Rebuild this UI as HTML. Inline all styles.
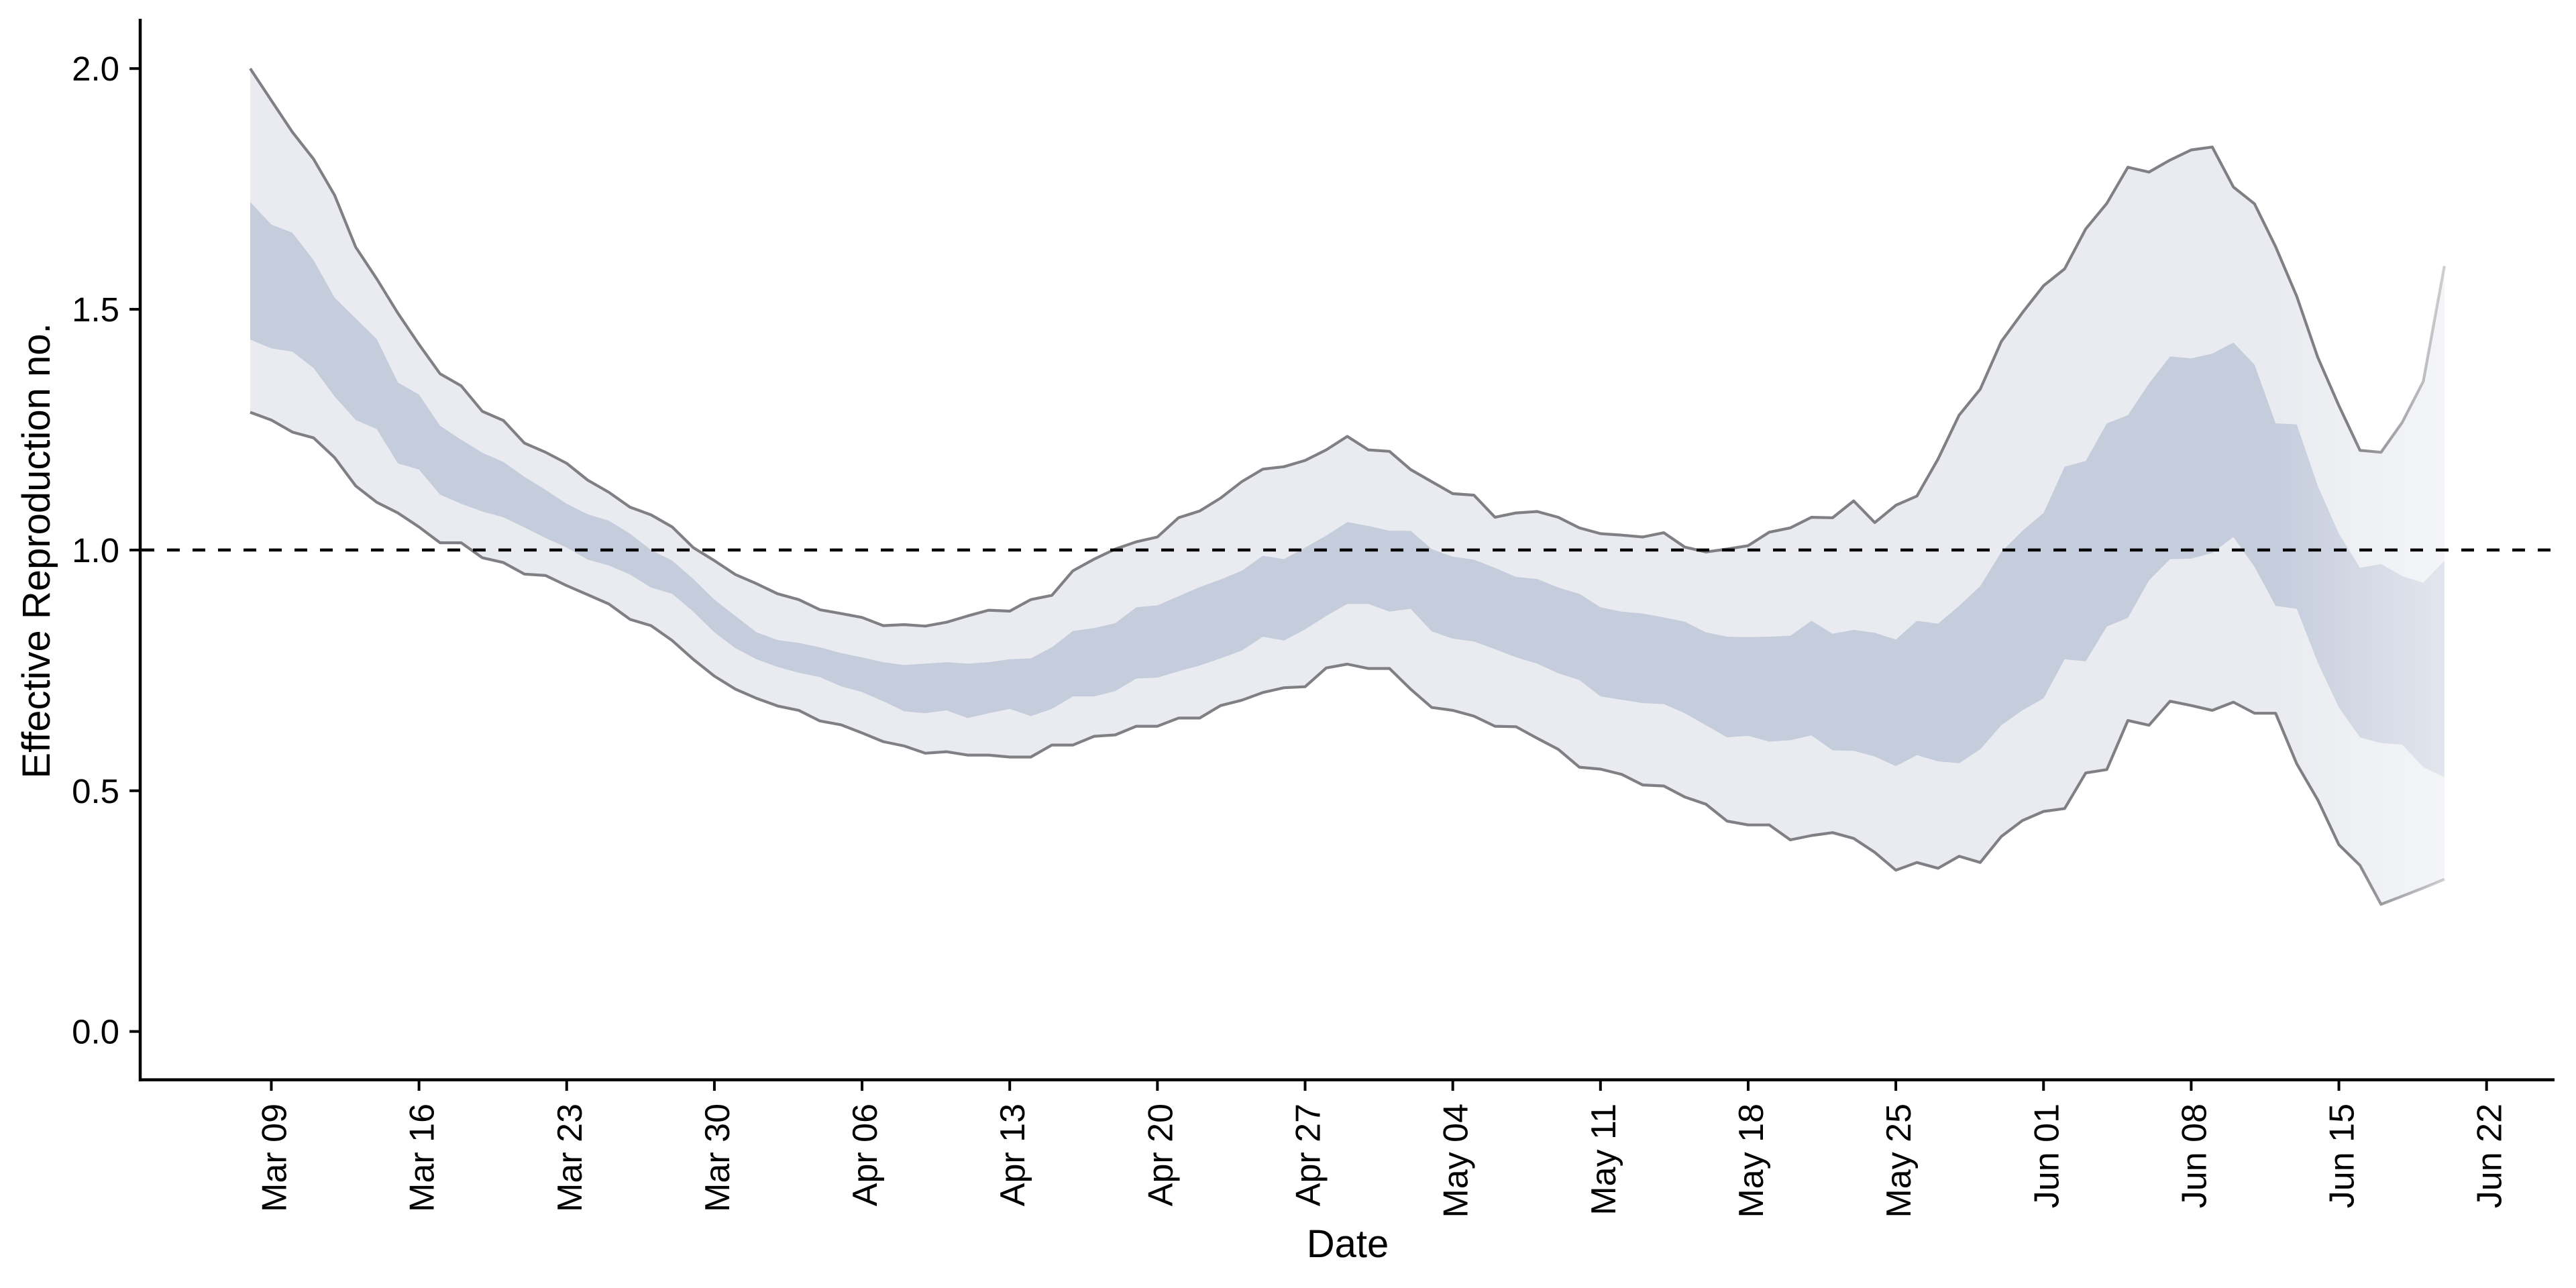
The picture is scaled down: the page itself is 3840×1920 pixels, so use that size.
<!DOCTYPE html>
<html><head><meta charset="utf-8">
<style>
html,body{margin:0;padding:0;background:#fff;}
svg{display:block;font-family:"Liberation Sans",Arial,sans-serif;}
</style></head>
<body>
<svg id="chart" width="3840" height="1920" viewBox="0 0 3840 1920" xmlns="http://www.w3.org/2000/svg">
<defs>
<linearGradient id="fadeFill" gradientUnits="userSpaceOnUse" x1="3390" y1="0" x2="3645" y2="0">
<stop offset="0" stop-color="#fff" stop-opacity="1"/>
<stop offset="1" stop-color="#fff" stop-opacity="0.5"/>
</linearGradient>
<mask id="fadeMask" maskUnits="userSpaceOnUse" x="0" y="0" width="3840" height="1920">
<rect x="0" y="0" width="3840" height="1920" fill="url(#fadeFill)"/>
</mask>
<linearGradient id="fadeLine" gradientUnits="userSpaceOnUse" x1="3500" y1="0" x2="3645" y2="0">
<stop offset="0" stop-color="#fff" stop-opacity="1"/>
<stop offset="1" stop-color="#fff" stop-opacity="0.35"/>
</linearGradient>
<mask id="lineMask" maskUnits="userSpaceOnUse" x="0" y="0" width="3840" height="1920">
<rect x="0" y="0" width="3840" height="1920" fill="url(#fadeLine)"/>
</mask>
</defs>
<g id="bands" mask="url(#fadeMask)"></g>
<g id="lines" mask="url(#lineMask)"></g>
<g id="axes"></g>
</svg>
<script>
const startDay = "Mar 08";
const upper90 = [2.0,1.934,1.868,1.812,1.737,1.629,1.563,1.492,1.427,1.366,1.341,1.288,1.269,1.222,1.203,1.180,1.145,1.120,1.089,1.073,1.048,1.005,0.978,0.949,0.930,0.909,0.897,0.876,0.868,0.860,0.843,0.845,0.842,0.850,0.863,0.875,0.873,
0.897,0.906,0.957,0.981,1.002,1.017,1.027,1.067,1.081,1.108,1.142,1.168,1.173,1.186,1.208,1.236,1.208,1.205,1.167,1.142,1.117,1.114,1.068,1.077,1.080,1.068,1.046,1.034,1.031,1.027,1.036,1.006,0.996,1.002,1.009,1.037,
1.046,1.068,1.067,1.102,1.057,1.093,1.112,1.189,1.280,1.334,1.433,1.493,1.549,1.584,1.667,1.720,1.795,1.785,1.810,1.831,1.837,1.754,1.719,1.630,1.527,1.400,1.300,1.207,1.203,1.265,1.350,1.590];
const upper50 = [1.723,1.676,1.659,1.602,1.524,1.481,1.438,1.348,1.323,1.258,1.229,1.202,1.183,1.152,1.125,1.096,1.074,1.061,1.034,1.000,0.978,0.940,0.897,0.863,0.829,0.813,0.807,0.798,0.786,0.777,0.767,0.761,0.764,0.767,0.764,0.767,0.773,
0.775,0.798,0.832,0.838,0.848,0.881,0.885,0.904,0.923,0.939,0.957,0.988,0.981,1.005,1.030,1.058,1.050,1.040,1.040,1.002,0.986,0.980,0.963,0.944,0.940,0.922,0.909,0.881,0.872,0.868,0.860,0.851,0.829,0.820,0.819,0.820,
0.822,0.853,0.826,0.834,0.828,0.814,0.853,0.847,0.884,0.925,0.996,1.040,1.077,1.173,1.185,1.263,1.280,1.346,1.402,1.398,1.408,1.431,1.385,1.263,1.261,1.133,1.034,0.963,0.971,0.946,0.932,0.978];
const lower50 = [1.437,1.419,1.412,1.378,1.319,1.270,1.251,1.180,1.167,1.115,1.096,1.080,1.068,1.047,1.025,1.005,0.980,0.968,0.949,0.922,0.909,0.872,0.829,0.796,0.773,0.757,0.745,0.736,0.717,0.705,0.686,0.665,0.661,0.667,0.651,0.661,0.670,
0.655,0.670,0.696,0.696,0.707,0.733,0.735,0.748,0.760,0.775,0.791,0.820,0.812,0.835,0.863,0.888,0.888,0.872,0.878,0.831,0.816,0.810,0.794,0.777,0.764,0.744,0.730,0.696,0.689,0.682,0.680,0.661,0.636,0.611,0.614,0.602,
0.605,0.615,0.584,0.583,0.571,0.551,0.574,0.561,0.557,0.586,0.636,0.667,0.692,0.773,0.769,0.841,0.859,0.937,0.981,0.982,0.994,1.027,0.965,0.884,0.878,0.766,0.673,0.611,0.599,0.596,0.549,0.528];
const lower90 = [1.286,1.270,1.245,1.233,1.192,1.133,1.099,1.077,1.048,1.015,1.015,0.984,0.974,0.950,0.947,0.926,0.907,0.888,0.856,0.843,0.812,0.773,0.738,0.711,0.692,0.676,0.667,0.645,0.637,0.620,0.602,0.593,0.578,0.581,0.574,0.574,0.570,
0.570,0.595,0.595,0.613,0.616,0.634,0.634,0.651,0.651,0.677,0.688,0.704,0.714,0.716,0.755,0.763,0.754,0.754,0.711,0.673,0.667,0.655,0.634,0.633,0.609,0.586,0.549,0.545,0.534,0.512,0.510,0.487,0.472,0.437,0.429,0.429,
0.398,0.407,0.413,0.401,0.372,0.335,0.351,0.339,0.364,0.351,0.405,0.438,0.457,0.463,0.537,0.544,0.646,0.636,0.686,0.677,0.667,0.684,0.661,0.661,0.556,0.481,0.388,0.345,0.264,0.281,0.298,0.316];
const yTicks = [0.0,0.5,1.0,1.5,2.0];
const yTickLabels = ["0.0","0.5","1.0","1.5","2.0"];
const xTickDays = [1,8,15,22,29,36,43,50,57,64,71,78,85,92,99,106];
const xTickLabels = ["Mar 09","Mar 16","Mar 23","Mar 30","Apr 06","Apr 13","Apr 20","Apr 27","May 04","May 11","May 18","May 25","Jun 01","Jun 08","Jun 15","Jun 22"];
const refValue = 1.0;

const NS = "http://www.w3.org/2000/svg";
const X0 = 373, DX = 31.45;
const Y0 = 1537.6, DY = 717.7;
const xs = d => X0 + DX * d;
const ys = v => Y0 - DY * v;
function mk(tag, attrs, parent){
  const e = document.createElementNS(NS, tag);
  for (const k in attrs) e.setAttribute(k, attrs[k]);
  parent.appendChild(e);
  return e;
}
const bands = document.getElementById('bands');
const lines = document.getElementById('lines');
const axes = document.getElementById('axes');
function bandPath(up, lo){
  let p = "";
  up.forEach((v,i)=>{ p += (i?"L":"M") + xs(i).toFixed(1) + "," + ys(v).toFixed(1); });
  for (let i = lo.length-1; i >= 0; i--) p += "L" + xs(i).toFixed(1) + "," + ys(lo[i]).toFixed(1);
  return p + "Z";
}
function linePath(arr){
  return arr.map((v,i)=>(i?"L":"M") + xs(i).toFixed(1) + "," + ys(v).toFixed(1)).join("");
}
const outer = mk('path', {d: bandPath(upper90, lower90), fill: '#e9ebf0'}, bands);


const inner = mk('path', {d: bandPath(upper50, lower50), fill: '#c5ccdc'}, bands);


const lu = mk('path', {d: linePath(upper90), fill: 'none', stroke: '#7f7f84', 'stroke-width': 4.2, 'stroke-linejoin': 'round'}, lines);


const ll = mk('path', {d: linePath(lower90), fill: 'none', stroke: '#7f7f84', 'stroke-width': 4.2, 'stroke-linejoin': 'round'}, lines);



const ref = mk('line', {x1: 211, x2: 3808, y1: ys(refValue), y2: ys(refValue), stroke: '#000', 'stroke-width': 4.5, 'stroke-dasharray': '19 19'}, axes);



const yAxis = mk('line', {x1: 209, x2: 209, y1: 28, y2: 1612, stroke: '#000', 'stroke-width': 4.5}, axes);


const xAxis = mk('line', {x1: 207, x2: 3808, y1: 1609.6, y2: 1609.6, stroke: '#000', 'stroke-width': 4.5}, axes);



yTicks.forEach((v,i)=>{
  const t = mk('line', {x1: 193, x2: 209, y1: ys(v), y2: ys(v), stroke: '#000', 'stroke-width': 4}, axes);
  
  
  const tx = mk('text', {x: 178, y: ys(v) + 18, 'text-anchor': 'end', 'font-size': 51, fill: '#000'}, axes);
  tx.textContent = yTickLabels[i];
  
  
});
xTickDays.forEach((d,i)=>{
  const x = xs(d);
  const t = mk('line', {x1: x, x2: x, y1: 1610, y2: 1626, stroke: '#000', 'stroke-width': 4}, axes);
  
  
  const tx = mk('text', {x: 0, y: 0, 'text-anchor': 'end', 'font-size': 52, fill: '#000', transform: `translate(${(x+22).toFixed(1)},1645) rotate(-90)`}, axes);
  tx.textContent = xTickLabels[i];
  
  
});
const xt = mk('text', {x: 2009, y: 1874, 'text-anchor': 'middle', 'font-size': 58, fill: '#000'}, axes);
xt.textContent = 'Date';


const yt = mk('text', {x: 0, y: 0, 'text-anchor': 'middle', 'font-size': 58, fill: '#000', transform: 'translate(74,821) rotate(-90)'}, axes);
yt.textContent = 'Effective Reproduction no.';


</script>
</body></html>
